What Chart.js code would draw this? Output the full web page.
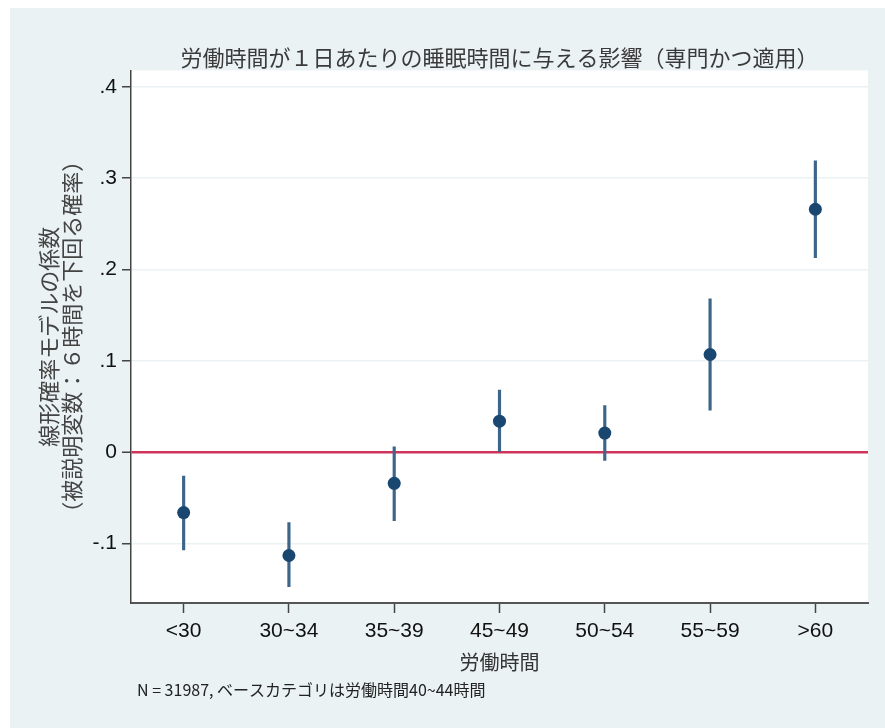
<!DOCTYPE html>
<html>
<head>
<meta charset="utf-8">
<script src="https://cdn.jsdelivr.net/npm/chart.js@4.4.0/dist/chart.umd.min.js"></script>
<style>
    html, body { margin: 0; padding: 0; background: #ffffff; }
    #marco { position: absolute; left: 10px; top: 8px; width: 875px; height: 720px; background: #eaf2f3; }
</style>
</head>
<body>
<div id="marco">
    <canvas id="graficoSueno" width="875" height="720"></canvas>
</div>
<script>
// categorias de horas de trabajo (base: 40~44)
const categorias = ['<30', '30~34', '35~39', '45~49', '50~54', '55~59', '>60'];
const coeficientes = [-0.066, -0.113, -0.034, 0.034, 0.021, 0.107, 0.266];
const limiteInferior = [-0.107, -0.147, -0.075, 0.001, -0.009, 0.046, 0.213];
const limiteSuperior = [-0.026, -0.077, 0.006, 0.068, 0.051, 0.168, 0.319];
const valoresEjeY = [-0.1, 0, 0.1, 0.2, 0.3, 0.4];
const etiquetasEjeY = ['-.1', '0', '.1', '.2', '.3', '.4'];

const tituloGrafico = '労働時間が１日あたりの睡眠時間に与える影響（専門かつ適用）';
const tituloEjeY = ['線形確率モデルの係数', '（被説明変数：６時間を下回る確率）'];
const tituloEjeX = '労働時間';
const notaPie = 'N = 31987, ベースカテゴリは労働時間40~44時間';

const fuenteJp = "'Noto Sans CJK JP', 'Noto Sans', sans-serif";
const fuenteNum = "'Liberation Sans', Arial, sans-serif";

// pinta el area del grafico en blanco y escribe la nota al pie
const fondoYNota = {
    id: 'fondoYNota',
    beforeDraw(chart) {
        const { ctx, chartArea } = chart;
        ctx.save();
        ctx.fillStyle = '#ffffff';
        ctx.fillRect(chartArea.left, chartArea.top, chartArea.right - chartArea.left, chartArea.bottom - chartArea.top);
        ctx.restore();
    },
    afterDraw(chart) {
        const ctx = chart.ctx;
        ctx.save();
        ctx.font = '16px ' + fuenteJp;
        ctx.fillStyle = '#222222';
        ctx.textBaseline = 'middle';
        ctx.fillText(notaPie, 127, 682);
        ctx.restore();
    }
};

const ctx = document.getElementById('graficoSueno').getContext('2d');

new Chart(ctx, {
    type: 'bar',
    data: {
        labels: categorias,
        datasets: [{
            type: 'bar',
            label: 'IC 95%',
            data: categorias.map((c, i) => [limiteInferior[i], limiteSuperior[i]]),
            backgroundColor: '#3d6589',
            borderWidth: 0,
            barThickness: 2.5,
            grouped: false,
            order: 2
        }, {
            type: 'line',
            label: 'Coeficiente',
            data: coeficientes,
            showLine: false,
            pointRadius: 6.5,
            pointBackgroundColor: '#1a476f',
            pointBorderColor: '#1a476f',
            pointBorderWidth: 0,
            order: 1
        }]
    },
    options: {
        responsive: false,
        animation: false,
        devicePixelRatio: 1,
        layout: {
            padding: { left: 0, top: 0, right: 17, bottom: 50 }
        },
        plugins: {
            legend: { display: false },
            tooltip: { enabled: false },
            title: {
                display: true,
                text: tituloGrafico,
                fullSize: false,
                color: '#3a3a3a',
                font: { family: fuenteJp, size: 22, weight: 'normal' },
                padding: { top: 36, bottom: 0 }
            }
        },
        scales: {
            x: {
                offset: true,
                afterFit: function (scale) { scale.height = 75; },
                grid: {
                    offset: false,
                    drawOnChartArea: false,
                    drawTicks: true,
                    tickLength: 10,
                    tickColor: '#444444',
                    tickWidth: 1.5
                },
                border: { color: '#555555', width: 2 },
                ticks: {
                    color: '#111111',
                    padding: 6,
                    maxRotation: 0,
                    font: { family: fuenteNum, size: 21 }
                },
                title: {
                    display: true,
                    text: tituloEjeX,
                    color: '#333333',
                    font: { family: fuenteJp, size: 20 },
                    padding: { top: 0, bottom: 4 }
                }
            },
            y: {
                min: -0.165,
                max: 0.418,
                afterFit: function (scale) { scale.width = 121; },
                afterBuildTicks: function (scale) {
                    scale.ticks = valoresEjeY.map(v => ({ value: v }));
                },
                grid: {
                    color: function (context) {
                        return context.tick && context.tick.value === 0 ? '#d1345b' : '#eaf2f3';
                    },
                    lineWidth: function (context) {
                        return context.tick && context.tick.value === 0 ? 2.5 : 1.5;
                    },
                    tickColor: '#444444',
                    tickLength: 9,
                    tickWidth: 1.5
                },
                border: { color: '#444444', width: 1.5 },
                ticks: {
                    color: '#111111',
                    padding: 5,
                    font: { family: fuenteNum, size: 21 },
                    callback: function (value) {
                        const i = valoresEjeY.findIndex(v => Math.abs(v - value) < 1e-9);
                        return i >= 0 ? etiquetasEjeY[i] : '';
                    }
                },
                title: {
                    display: true,
                    text: tituloEjeY,
                    color: '#444444',
                    font: { family: fuenteJp, size: 22, lineHeight: 1.05 },
                    padding: { top: 27, bottom: 0 }
                }
            }
        }
    },
    plugins: [fondoYNota]
});
</script>
</body>
</html>
